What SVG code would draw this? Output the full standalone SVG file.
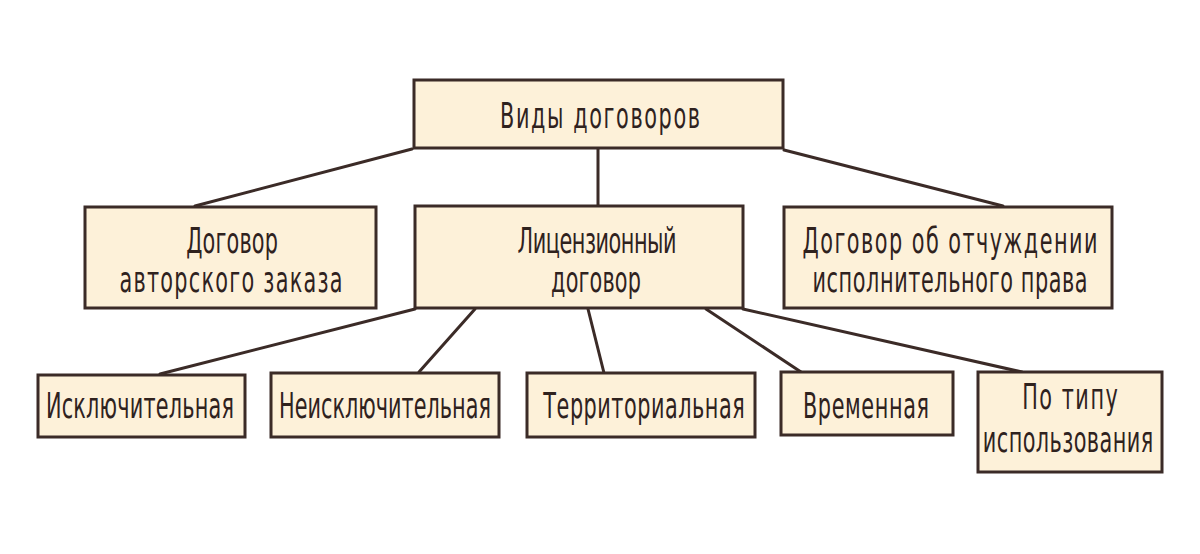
<svg xmlns="http://www.w3.org/2000/svg" width="1200" height="554" viewBox="0 0 1200 554">
<style>
.box{fill:#fdf1d9;stroke:#3b2b27;stroke-width:3}
.ln{stroke:#3b2b27;stroke-width:3;stroke-linecap:round;fill:none}
text{font-family:"DejaVu Sans Condensed","DejaVu Sans",sans-serif;font-size:35px;fill:#2f221e;text-anchor:middle;font-stretch:condensed}
</style>
<rect width="1200" height="554" fill="#ffffff"/>
<g id="connectors">
<line class="ln" x1="412" y1="149" x2="195" y2="206"/>
<line class="ln" x1="598" y1="149" x2="598" y2="206"/>
<line class="ln" x1="784" y1="150" x2="1003" y2="206"/>
<line class="ln" x1="415" y1="309" x2="160" y2="374"/>
<line class="ln" x1="475" y1="309" x2="419" y2="372"/>
<line class="ln" x1="588" y1="309" x2="604" y2="373"/>
<line class="ln" x1="706" y1="309" x2="801" y2="372"/>
<line class="ln" x1="743" y1="309" x2="1022" y2="372"/>
</g>
<g id="root">
<rect class="box" x="414" y="80" width="369" height="68"/>
<text transform="translate(600 128) scale(0.66 1)" textLength="303" lengthAdjust="spacing">Виды договоров</text>
</g>
<g id="author">
<rect class="box" x="85" y="207" width="291" height="101"/>
<text transform="translate(232 253) scale(0.66 1)" textLength="139" lengthAdjust="spacing">Договор</text>
<text transform="translate(231 292) scale(0.66 1)" textLength="338" lengthAdjust="spacing">авторского заказа</text>
</g>
<g id="license">
<rect class="box" x="415" y="206" width="328" height="102"/>
<text transform="translate(597 253) scale(0.66 1)" textLength="241" lengthAdjust="spacing">Лицензионный</text>
<text transform="translate(596 292) scale(0.66 1)" textLength="136" lengthAdjust="spacing">договор</text>
</g>
<g id="alienation">
<rect class="box" x="784" y="207" width="328" height="101"/>
<text transform="translate(950 253) scale(0.66 1)" textLength="447" lengthAdjust="spacing">Договор об отчуждении</text>
<text transform="translate(950 292) scale(0.66 1)" textLength="417" lengthAdjust="spacing">исполнительного права</text>
</g>
<g id="exclusive">
<rect class="box" x="38" y="375" width="207" height="62"/>
<text transform="translate(140 418) scale(0.66 1)" textLength="285" lengthAdjust="spacing">Исключительная</text>
</g>
<g id="nonexclusive">
<rect class="box" x="271" y="373" width="228" height="64"/>
<text transform="translate(385 418) scale(0.66 1)" textLength="321" lengthAdjust="spacing">Неисключительная</text>
</g>
<g id="territorial">
<rect class="box" x="527" y="373" width="228" height="64"/>
<text transform="translate(644 418) scale(0.66 1)" textLength="305" lengthAdjust="spacing">Территориальная</text>
</g>
<g id="temporal">
<rect class="box" x="781" y="372" width="172" height="63"/>
<text transform="translate(866 418) scale(0.66 1)" textLength="191" lengthAdjust="spacing">Временная</text>
</g>
<g id="usage">
<rect class="box" x="978" y="372" width="184" height="100"/>
<text transform="translate(1070 409) scale(0.66 1)" textLength="145" lengthAdjust="spacing">По типу</text>
<text transform="translate(1068 452) scale(0.66 1)" textLength="258" lengthAdjust="spacing">использования</text>
</g>
</svg>
